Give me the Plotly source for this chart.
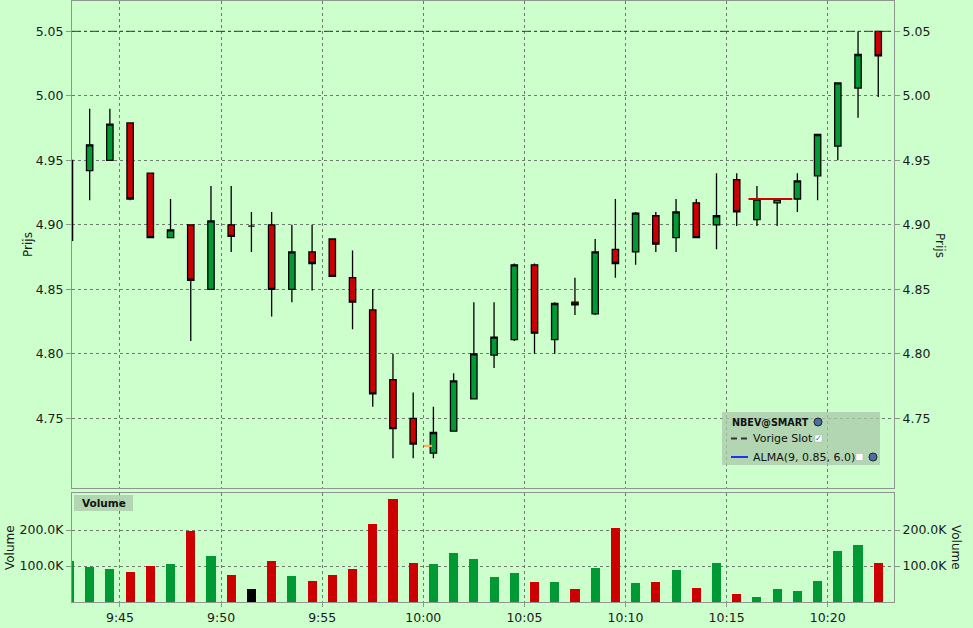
import pandas as pd
import plotly.graph_objects as go

DATE = "2021-06-15"
minutes = ["09:42", "09:43", "09:44", "09:45", "09:46", "09:47", "09:48", "09:49", "09:50", "09:51",
           "09:52", "09:53", "09:54", "09:55", "09:56", "09:57", "09:58", "09:59", "10:00", "10:01",
           "10:02", "10:03", "10:04", "10:05", "10:06", "10:07", "10:08", "10:09", "10:10", "10:11",
           "10:12", "10:13", "10:14", "10:15", "10:16", "10:17", "10:18", "10:19", "10:20", "10:21",
           "10:22", "10:23"]
opens = [4.888, 4.942, 4.950, 4.979, 4.940, 4.890, 4.900, 4.850, 4.900, 4.899,
         4.900, 4.850, 4.879, 4.889, 4.859, 4.834, 4.780, 4.750, 4.723, 4.740,
         4.765, 4.799, 4.811, 4.869, 4.811, 4.840, 4.831, 4.881, 4.879, 4.907,
         4.890, 4.917, 4.900, 4.935, 4.904, 4.917, 4.920, 4.938, 4.961, 5.006,
         5.050, 5.030]
highs = [4.950, 4.990, 4.990, 4.979, 4.940, 4.920, 4.900, 4.930, 4.930, 4.910,
         4.910, 4.900, 4.900, 4.889, 4.880, 4.850, 4.800, 4.770, 4.759, 4.785,
         4.840, 4.840, 4.870, 4.870, 4.840, 4.859, 4.889, 4.920, 4.910, 4.910,
         4.920, 4.920, 4.940, 4.940, 4.930, 4.920, 4.940, 4.970, 5.010, 5.050,
         5.050, 5.030]
lows = [4.888, 4.919, 4.950, 4.919, 4.890, 4.890, 4.810, 4.850, 4.879, 4.879,
        4.829, 4.840, 4.849, 4.860, 4.819, 4.759, 4.719, 4.719, 4.719, 4.740,
        4.765, 4.789, 4.810, 4.800, 4.800, 4.830, 4.830, 4.859, 4.869, 4.879,
        4.879, 4.890, 4.881, 4.899, 4.899, 4.899, 4.910, 4.919, 4.950, 4.983,
        4.999, 4.990]
closes = [4.950, 4.962, 4.978, 4.920, 4.890, 4.896, 4.857, 4.903, 4.891, 4.899,
          4.850, 4.879, 4.870, 4.860, 4.840, 4.769, 4.742, 4.730, 4.739, 4.779,
          4.800, 4.813, 4.869, 4.816, 4.839, 4.838, 4.879, 4.870, 4.909, 4.885,
          4.910, 4.890, 4.907, 4.910, 4.920, 4.920, 4.934, 4.970, 5.010, 5.032,
          5.031, 4.990]
volumes = [113, 96, 91, 82, 99, 105, 196, 127, 74, 35,
           113, 71, 57, 74, 91, 218, 285, 107, 105, 135,
           119, 69, 80, 55, 55, 35, 94, 205, 52, 55,
           88, 38, 107, 21, 13, 35, 30, 57, 141, 157,
           107, 144]  # thousands
prev_close = 5.05
price_ticks = [4.75, 4.80, 4.85, 4.90, 4.95, 5.00, 5.05]
vol_ticks = [100000, 200000]
vol_tick_labels = ["100.0K", "200.0K"]
# small price-flag segments seen on the chart
flag_red_times = ["10:16:05", "10:18:15"]
flag_red_price = [4.92, 4.92]
flag_orange_times = ["10:00:02", "10:00:26"]
flag_orange_price = [4.7286, 4.7286]

GREEN = "#009933"
RED = "#cc0000"
BG = "#ccffcc"
GRID = "#6f7a6f"

bar_start = pd.to_datetime([f"{DATE} {m}" for m in minutes])
xs = bar_start + pd.Timedelta(seconds=30)
vol_colors = [GREEN if c > o else (RED if c < o else "black") for o, c in zip(opens, closes)]
vol_vals = [v * 1000 for v in volumes]

x_range = [pd.Timestamp(f"{DATE} 09:42:37.6"), pd.Timestamp(f"{DATE} 10:23:16.7")]

fig = go.Figure()

fig.add_trace(go.Scatter(x=pd.to_datetime([f"{DATE} {t}" for t in flag_red_times]), y=flag_red_price,
                         mode="lines", line=dict(color=RED, width=2.2), hoverinfo="skip",
                         showlegend=False, xaxis="x", yaxis="y"))

fig.add_trace(go.Candlestick(
    x=xs, open=opens, high=highs, low=lows, close=closes,
    increasing=dict(fillcolor=GREEN, line=dict(color="black", width=1.3)),
    decreasing=dict(fillcolor=RED, line=dict(color="black", width=1.3)),
    whiskerwidth=0, showlegend=False, xaxis="x", yaxis="y", hoverinfo="skip"))

fig.add_trace(go.Scatter(x=pd.to_datetime([f"{DATE} {t}" for t in flag_orange_times]), y=flag_orange_price,
                         mode="lines", line=dict(color="#ffaa55", width=2.2), hoverinfo="skip",
                         showlegend=False, xaxis="x", yaxis="y"))

# invisible helper trace so the right-hand price axis is drawn
fig.add_trace(go.Scatter(x=xs, y=closes, mode="markers", marker=dict(opacity=0),
                         hoverinfo="skip", showlegend=False, xaxis="x", yaxis="y3"))

fig.add_trace(go.Bar(x=xs, y=vol_vals, marker=dict(color=vol_colors, line=dict(width=0)),
                     width=27000, showlegend=False, xaxis="x2", yaxis="y2", hoverinfo="skip"))
fig.add_trace(go.Scatter(x=xs, y=vol_vals, mode="markers", marker=dict(opacity=0),
                         hoverinfo="skip", showlegend=False, xaxis="x2", yaxis="y4"))

L, R, T, B = 72, 894, 1, 602
W, H = 973, 628


def px_x(px):
    return (px - L) / (R - L)


def px_y(py):
    return (B - py) / (B - T)


price_bottom = px_y(488)
vol_top = px_y(493)
p_lo = 4.75 - (488 - 418.3) / 1290
p_hi = 5.05 + (31.3 - 1) / 1290
v_hi = (602 - 493) / 36 * 100000

font = dict(family="DejaVu Sans", size=12, color="#1a1a1a")
axis_common = dict(showline=True, linecolor="#8c968c", linewidth=1, mirror=True, zeroline=False)
tickf = dict(family="DejaVu Sans", size=12.5, color="#1a1a1a")

fig.update_layout(
    width=W, height=H,
    margin=dict(l=L, r=W - R, t=T, b=H - B),
    paper_bgcolor=BG, plot_bgcolor=BG,
    font=font, showlegend=False, hovermode=False,
    boxgap=0.55, bargap=0,
    xaxis=dict(domain=[0, 1], anchor="y", range=x_range, type="date",
               showticklabels=False, showgrid=True, gridcolor=GRID, griddash="dot", gridwidth=1,
               tick0=f"{DATE} 09:45", dtick=300000, rangeslider=dict(visible=False), ticks="",
               **axis_common),
    xaxis2=dict(domain=[0, 1], anchor="y2", matches="x", range=x_range, type="date",
                showticklabels=True, tickformat="%-H:%M", showgrid=True, gridcolor=GRID,
                griddash="dot", gridwidth=1, tick0=f"{DATE} 09:45", dtick=300000,
                ticks="outside", ticklen=4, tickcolor="#8c968c", tickfont=tickf,
                rangeslider=dict(visible=False), **axis_common),
    yaxis=dict(domain=[price_bottom, 1], anchor="x", range=[p_lo, p_hi], tickvals=price_ticks,
               tickformat=".2f", showgrid=True, gridcolor=GRID, griddash="dot", gridwidth=1,
               ticks="outside", ticklen=5, tickcolor="#8c968c", side="left",
               tickfont=tickf, **axis_common),
    yaxis3=dict(overlaying="y", anchor="x", side="right", range=[p_lo, p_hi], tickvals=price_ticks,
                tickformat=".2f", showgrid=False, ticks="outside", ticklen=5, tickcolor="#8c968c",
                tickfont=tickf, showline=False, zeroline=False),
    yaxis2=dict(domain=[0, vol_top], anchor="x2", range=[0, v_hi], tickvals=vol_ticks,
                ticktext=vol_tick_labels, showgrid=True, gridcolor=GRID, griddash="dot", gridwidth=1,
                ticks="outside", ticklen=5, tickcolor="#8c968c", tickfont=tickf, **axis_common),
    yaxis4=dict(overlaying="y2", anchor="x2", side="right", range=[0, v_hi], tickvals=vol_ticks,
                ticktext=vol_tick_labels, showgrid=False, ticks="outside", ticklen=5,
                tickcolor="#8c968c", tickfont=tickf, showline=False, zeroline=False),
)

shapes = []
# previous close line (Vorige Slot)
shapes.append(dict(type="line", xref="x domain", yref="y", x0=0, x1=1, y0=prev_close, y1=prev_close,
                   line=dict(color="#3a3f3a", width=1, dash="dashdot")))

# legend box
shapes.append(dict(type="rect", xref="paper", yref="paper", x0=px_x(722), x1=px_x(880),
                   y0=px_y(465), y1=px_y(412), fillcolor="rgba(170,200,170,0.75)", line=dict(width=0),
                   layer="above"))
shapes.append(dict(type="line", xref="paper", yref="paper", x0=px_x(731), x1=px_x(748),
                   y0=px_y(438.5), y1=px_y(438.5), line=dict(color="#333", width=2, dash="6px,4px"),
                   layer="above"))
shapes.append(dict(type="line", xref="paper", yref="paper", x0=px_x(731), x1=px_x(748),
                   y0=px_y(457), y1=px_y(457), line=dict(color="#2233ee", width=2), layer="above"))
# checkboxes
shapes.append(dict(type="rect", xref="paper", yref="paper", x0=px_x(815), x1=px_x(822),
                   y0=px_y(442), y1=px_y(435), fillcolor="white", line=dict(color="#aaa", width=0.5),
                   layer="above"))
shapes.append(dict(type="rect", xref="paper", yref="paper", x0=px_x(856), x1=px_x(863),
                   y0=px_y(460.5), y1=px_y(453.5), fillcolor="white", line=dict(color="#aaa", width=0.5),
                   layer="above"))
# globe icons
for cx, cy in [(818, 422), (873, 457)]:
    shapes.append(dict(type="circle", xref="paper", yref="paper", x0=px_x(cx - 4), x1=px_x(cx + 4),
                       y0=px_y(cy + 4), y1=px_y(cy - 4), fillcolor="#4a6fa0",
                       line=dict(color="#223", width=1), layer="above"))
# Volume label box
shapes.append(dict(type="rect", xref="paper", yref="paper", x0=px_x(74), x1=px_x(133),
                   y0=px_y(511), y1=px_y(495), fillcolor="rgba(170,200,170,0.75)", line=dict(width=0),
                   layer="above"))
fig.update_layout(shapes=shapes)

ann = []
lf = dict(family="DejaVu Sans", size=11, color="#111")
ann.append(dict(xref="paper", yref="paper", x=px_x(730), y=px_y(422), text="<b>NBEV@SMART</b>",
                showarrow=False, xanchor="left", yanchor="middle",
                font=dict(family="DejaVu Sans", size=9.6, color="#111")))
ann.append(dict(xref="paper", yref="paper", x=px_x(751), y=px_y(438.5), text="Vorige Slot",
                showarrow=False, xanchor="left", yanchor="middle", font=lf))
ann.append(dict(xref="paper", yref="paper", x=px_x(818.5), y=px_y(438.5), text="✓",
                showarrow=False, xanchor="center", yanchor="middle",
                font=dict(family="DejaVu Sans", size=8, color="#1a5fd0")))
ann.append(dict(xref="paper", yref="paper", x=px_x(751), y=px_y(457), text="ALMA(9, 0.85, 6.0)",
                showarrow=False, xanchor="left", yanchor="middle", font=lf))
ann.append(dict(xref="paper", yref="paper", x=px_x(103.5), y=px_y(503), text="<b>Volume</b>",
                showarrow=False, xanchor="center", yanchor="middle",
                font=dict(family="DejaVu Sans", size=10.5, color="#111")))
# axis titles
tf = dict(family="DejaVu Sans", size=12, color="#1a1a1a")
ann.append(dict(xref="paper", yref="paper", x=px_x(28), y=px_y(245), text="Prijs", textangle=-90,
                showarrow=False, xanchor="center", yanchor="middle", font=tf))
ann.append(dict(xref="paper", yref="paper", x=px_x(940), y=px_y(245), text="Prijs", textangle=90,
                showarrow=False, xanchor="center", yanchor="middle", font=tf))
ann.append(dict(xref="paper", yref="paper", x=px_x(10), y=px_y(547), text="Volume", textangle=-90,
                showarrow=False, xanchor="center", yanchor="middle", font=tf))
ann.append(dict(xref="paper", yref="paper", x=px_x(956), y=px_y(547), text="Volume", textangle=90,
                showarrow=False, xanchor="center", yanchor="middle", font=tf))
fig.update_layout(annotations=ann)

fig.write_html("out.html", config=dict(displayModeBar=False, staticPlot=True),
               post_script="document.body.style.margin='0';document.body.style.overflow='hidden';")
